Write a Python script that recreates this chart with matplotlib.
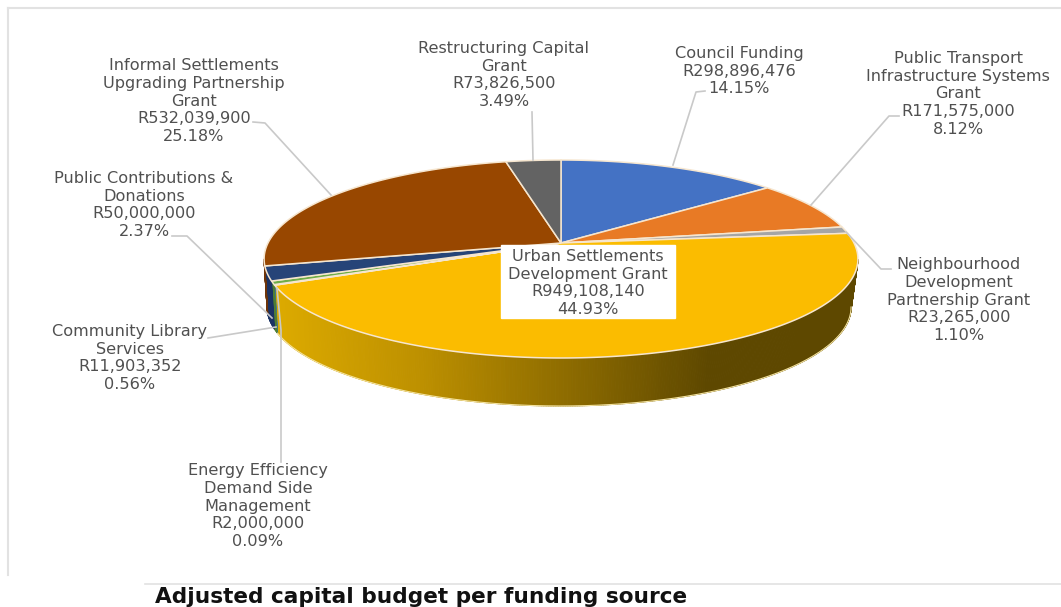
import matplotlib
matplotlib.use("Agg")
import matplotlib.pyplot as plt
import numpy as np
from matplotlib.colors import LinearSegmentedColormap

# funding sources, clockwise from twelve o'clock
names = ["Council Funding",
         "Public Transport\nInfrastructure Systems\nGrant",
         "Neighbourhood\nDevelopment\nPartnership Grant",
         "Urban Settlements\nDevelopment Grant",
         "Energy Efficiency\nDemand Side\nManagement",
         "Community Library\nServices",
         "Public Contributions &\nDonations",
         "Informal Settlements\nUpgrading Partnership\nGrant",
         "Restructuring Capital\nGrant"]
amounts = [298896476, 171575000, 23265000, 949108140, 2000000,
           11903352, 50000000, 532039900, 73826500]
percents = ["14.15%", "8.12%", "1.10%", "44.93%", "0.09%",
            "0.56%", "2.37%", "25.18%", "3.49%"]

top_colors = ["#4472c4", "#e87a25", "#a5a5a5", "#fbbc00", "#5b9bd5",
              "#70ad47", "#264478", "#984700", "#636363"]
wall_colors = ["#2f5597", "#a85a1a", "#777777", None, "#3f75a8",
               "#4f7f32", "#1b3364", "#6e3408", "#474747"]

# label centres and leader lines, one per slice
label_x = [739, 958, 959, 588, 258, 130, 144, 194, 504]
label_y = [71, 94, 300, 283, 506, 358, 205, 101, 75]
leaders = [[(673, 165), (696, 92), (705, 91)],
           [(811, 205), (889, 116), (899, 116)],
           [(846, 232), (881, 269), (891, 269)],
           None,
           [(277, 288), (281, 330), (281, 462)],
           [(276, 327), (208, 338)],
           [(272, 318), (187, 236), (172, 236)],
           [(331, 195), (265, 123), (253, 122)],
           [(533, 160), (532, 112)]]

# pie geometry in pixels, k tilts the disc away from the viewer
cx, cy = 561, 243
R, A, k = 293, 96.4, 0.1616
depth = 48


def project(theta):
    x = np.sin(theta)
    y = np.cos(theta)
    den = 1 + k * y
    return cx + R * x / den, cy - A * y / den


def base(X):
    # the bottom of the disc is a little narrower than the top
    return cx + (X - cx) * np.where(X < cx, 0.99, 0.977)


fig = plt.figure(figsize=(10.61, 6.07), dpi=100)
ax = fig.add_axes([0, 0, 1, 1])
ax.set_xlim(0, 1061)
ax.set_ylim(607, 0)
ax.axis("off")

# frame lines
frame = "#e2e2e2"
ax.plot([8, 8], [8, 575], color=frame, lw=1.5)
ax.plot([8, 1061], [8, 8], color=frame, lw=1.5)
ax.plot([145, 1061], [584, 584], color=frame, lw=1.2)

fractions = np.array(amounts) / sum(amounts)
edges = np.concatenate([[0], np.cumsum(fractions)]) * 2 * np.pi

# shading of the big yellow wall, left to right
yellow_wall = LinearSegmentedColormap.from_list(
    "yw", ["#dcaa00", "#bd9000", "#8e6c00", "#5e4800", "#5e4800"])

for i in range(len(amounts)):
    t = np.linspace(edges[i], edges[i + 1], max(3, int(fractions[i] * 900)))
    X, Y = project(t)
    for j in range(len(t) - 1):
        # only the front of the disc shows a wall
        if np.cos(t[j]) > -k:
            continue
        if wall_colors[i] is None:
            c = yellow_wall((X[j] - 276) / 580)
        else:
            c = wall_colors[i]
        ax.fill([X[j], X[j + 1], base(X[j + 1]), base(X[j])],
                [Y[j], Y[j + 1], Y[j + 1] + depth, Y[j] + depth],
                color=c, lw=0.8, zorder=2)

# pale rim under the wall
t = np.linspace(np.arccos(-k), edges[4], 200)
X, Y = project(t)
ax.plot(base(X), Y + depth, color="#f4e3a0", lw=0.8, zorder=3)

# top face
for i in range(len(amounts)):
    t = np.linspace(edges[i], edges[i + 1], max(3, int(fractions[i] * 600)))
    X, Y = project(t)
    ax.fill(np.r_[cx, X], np.r_[cy, Y], facecolor=top_colors[i],
            edgecolor="#f6e6cf", lw=1.1, zorder=4)

# box behind the largest slice's label
ax.fill([501, 675, 675, 501], [245, 245, 318, 318], color="white", zorder=5)

for i in range(len(amounts)):
    if leaders[i] is not None:
        ax.plot([p[0] for p in leaders[i]], [p[1] for p in leaders[i]],
                color="#c9c9c9", lw=1.2, zorder=4.5, solid_joinstyle="round")
    label = names[i] + "\nR{:,}\n".format(amounts[i]) + percents[i]
    ax.text(label_x[i], label_y[i], label, ha="center", va="center",
            multialignment="center", fontsize=11.6, color="#505050",
            family="DejaVu Sans", linespacing=1.22, zorder=6)

ax.text(155, 603, "Adjusted capital budget per funding source", ha="left",
        va="baseline", fontsize=15.6, fontweight="bold", color="#111111",
        family="DejaVu Sans")

plt.savefig("out.png", dpi=100)
